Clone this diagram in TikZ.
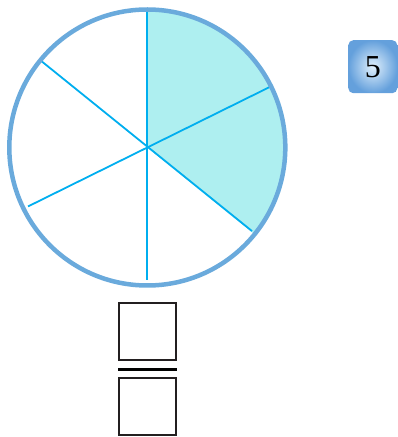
\documentclass[tikz,border=0pt]{standalone}
\usepackage{fontspec}
\setmainfont{Liberation Serif}
\usetikzlibrary{calc}
\definecolor{rimblue}{RGB}{106,170,220}
\definecolor{spoke}{RGB}{0,174,239}
\definecolor{shadecyan}{RGB}{174,239,240}
\definecolor{badgeout}{RGB}{100,160,220}
\definecolor{badgein}{RGB}{225,240,252}
\definecolor{inkdark}{RGB}{35,31,32}
\begin{document}
\begin{tikzpicture}[x=1pt,y=1pt,
  spokeline/.style={draw=spoke,line width=1.8pt},
  answerbox/.style={draw=inkdark,line width=2pt,minimum width=56.4pt,minimum height=56.4pt,inner sep=0pt},
  badge/.style={rounded corners=5pt,minimum width=49pt,minimum height=53pt,inner sep=0pt,
    shading=radial,inner color=badgein,outer color=badgeout}]
\useasboundingbox (0,0) rectangle (398,437);
\coordinate (c) at (147.3,289.5);
% shaded sectors
\fill[shadecyan] (c) -- ++(90:138) arc[start angle=90,end angle=-39,radius=138] -- cycle;
% spokes (three diameters)
\coordinate (p90) at ($(c)+(90:137)$);
\coordinate (p270) at ($(c)+(270:133)$);
\coordinate (p26) at ($(c)+(26.3:136)$);
\coordinate (p206) at ($(c)+(206.3:133)$);
\coordinate (p141) at ($(c)+(140.8:137)$);
\coordinate (p321) at ($(c)+(321.4:134)$);
\draw[spokeline] (p90) -- (p270);
\draw[spokeline] (p26) -- (p206);
\draw[spokeline] (p141) -- (p321);
% rim
\draw[rimblue,line width=4.5pt] (c) circle[radius=138];
% badge
\node[badge] (num) at (372.8,370.3) {\fontsize{32}{32}\selectfont 5};
% fraction boxes
\node[answerbox] (numer) at (147.5,105.5) {};
\node[answerbox] (denom) at (147.5,30.5) {};
\coordinate (barL) at (118.3,67.7);
\coordinate (barR) at (176.7,67.7);
\draw[black,line width=3pt] (barL) -- (barR);
\end{tikzpicture}
\end{document}
